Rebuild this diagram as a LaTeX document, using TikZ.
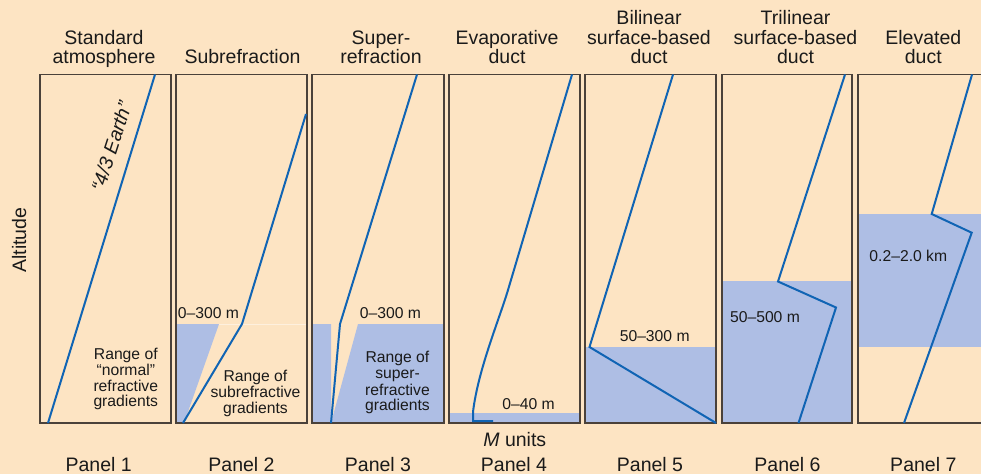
\documentclass[tikz,border=0pt]{standalone}
\usepackage{fontspec}
\setmainfont{Liberation Sans}
\definecolor{bgpeach}{HTML}{FDE4C3}
\definecolor{ductblue}{HTML}{AEBEE4}
\definecolor{profile}{HTML}{1064B4}
\definecolor{boxline}{HTML}{4A413A}
\definecolor{txt}{HTML}{1A1A1A}
\tikzset{
  title/.style={font=\fontsize{19.5}{19.5}\selectfont, text=txt, anchor=base, inner sep=0pt},
  small/.style={font=\fontsize{15.7}{15.7}\selectfont, text=txt, anchor=base, inner sep=0pt},
  panelbox/.style={draw=boxline, line width=1.8pt},
  profileline/.style={draw=profile, line width=2pt, line join=miter},
  duct/.style={fill=ductblue},
}
\begin{document}
\begin{tikzpicture}[x=1pt,y=-1pt]
\path[use as bounding box, fill=bgpeach] (0,0) rectangle (981,474);
\clip (0,0) rectangle (981,474);

% duct / range fills
\fill[duct] (176,324) -- (219,324) -- (184,423) -- (176,423) -- cycle;
\draw[white!45!bgpeach, line width=0.8pt] (219,324) -- (307,324);
\fill[duct] (312,324) -- (331,324) -- (331,423) -- (358,324) -- (444,324) -- (444,423) -- (312,423) -- cycle;
\fill[duct] (449,412.7) rectangle (580,423);
\fill[duct] (585,347) rectangle (716,423);
\fill[duct] (722,281) rectangle (852,423);
\fill[duct] (858,214) rectangle (989,347);

% panel boxes
\foreach \xa/\xb in {40/171, 176/307, 312/444, 449/580, 585/716, 722/852, 858/989}
  \draw[panelbox] (\xa,74.5) rectangle (\xb,423);

% refractivity profiles
\draw[profileline] (48,423) -- (155,74.5);
\draw[profileline] (183,423) -- (242,324) -- (306,114);
\draw[profileline] (331,423) -- (340,324) -- (417,74.5);
\draw[profileline] (493,421) -- (473,421) -- (473,412) .. controls (478,370) and (499,320) .. (508,290) -- (572,74.5);
\draw[profileline] (673,74.5) -- (589.5,347) -- (716,423);
\draw[profileline] (845,74.5) -- (778,281.5) -- (836,307.5) -- (798.5,423);
\draw[profileline] (972,74.5) -- (931.7,214) -- (971.7,232.7) -- (904,423);

% titles
\foreach \txt/\x/\y [count=\i] in {
  Standard/104/44, atmosphere/104/63.3,
  Subrefraction/242.5/63.3,
  Super-/381/44, refraction/381/63.3,
  Evaporative/507/44, duct/507/63.3,
  Bilinear/649/24.5, surface-based/649/44, duct/649/63.3,
  Trilinear/795.5/24.5, surface-based/795.5/44, duct/795.5/63.3,
  Elevated/923.3/44, duct/923.3/63.3}
  \node[title] (title\i) at (\x,\y) {\txt};

% panel labels
\foreach \x [count=\i] in {98.7, 241.5, 378, 514, 650, 787.5, 923.3}
  \node[title] (panel\i) at (\x,471.5) {Panel \i};

\node[title] (munits) at (514.8,446.7) {\textit{M} units};
\node[title, rotate=90] (altitude) at (26,240) {Altitude};
\node[title, anchor=center, rotate=72] (earth) at (111.5,146) {\textit{“4/3 Earth”}};

% small labels
\foreach \txt/\x/\y [count=\i] in {
  0–300 m/208.5/318.3, 0–300 m/390.5/318.3, 0–40 m/528.5/409,
  50–300 m/654.7/341.7, 50–500 m/765/322.7, 0.2–2.0 km/908.3/261.7,
  Range of/125.8/359.5, “normal”/125.8/375, refractive/125.8/391, gradients/125.8/406.7,
  Range of/255.5/381.7, subrefractive/255.5/397.7, gradients/255.5/413.3,
  Range of/397.5/362.7, super-/397.5/378.3, refractive/397.5/395, gradients/397.5/410.7}
  \node[small] (lab\i) at (\x,\y) {\txt};
\end{tikzpicture}
\end{document}
